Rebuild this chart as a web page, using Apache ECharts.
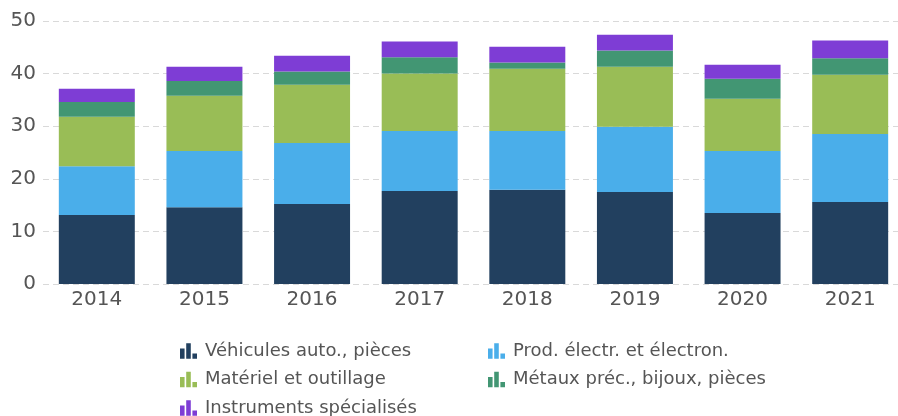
<!DOCTYPE html>
<html>
<head>
<meta charset="utf-8">
<script src="https://cdn.jsdelivr.net/npm/echarts@6/dist/echarts.min.js"></script>
<style>
  html, body { margin: 0; padding: 0; background: #fff; }
  #chart { width: 898px; height: 416px; }
</style>
</head>
<body>
<div id="chart"></div>
<script>
const years = ['2014', '2015', '2016', '2017', '2018', '2019', '2020', '2021']
const vehicules = [13.1, 14.6, 15.2, 17.7, 17.9, 17.5, 13.5, 15.6]
const electr = [9.3, 10.7, 11.6, 11.4, 11.2, 12.4, 11.8, 12.9]
const materiel = [9.4, 10.5, 11.1, 10.9, 11.8, 11.4, 9.9, 11.3]
const metaux = [2.8, 2.8, 2.5, 3.1, 1.2, 3.1, 3.8, 3.1]
const instruments = [2.5, 2.7, 3.0, 3.0, 3.0, 3.0, 2.7, 3.4]
const yTicks = [0, 10, 20, 30, 40, 50]

const names = [
  'Véhicules auto., pièces',
  'Prod. électr. et électron.',
  'Matériel et outillage',
  'Métaux préc., bijoux, pièces',
  'Instruments spécialisés',
]
const colors = ['#22405f', '#4aaeea', '#99bd56', '#429673', '#7e3dd5']
const values = [vehicules, electr, materiel, metaux, instruments]

// little bar-chart glyph used in the legend
const icon = 'path://M0,4h3.5v8h-3.5z M4.75,0h3.5v12h-3.5z M9.5,8h3.5v4h-3.5z'
const font = "'DejaVu Sans', Verdana, sans-serif"

const legendBase = {
  orient: 'vertical',
  top: 336,
  height: 90,
  itemWidth: 17,
  itemHeight: 17,
  itemGap: 8.5,
  icon: icon,
  textStyle: { color: '#555', fontSize: 18, lineHeight: 20, fontFamily: font, padding: [0, 0, 0, 3] },
  selectedMode: false,
}

const chart = echarts.init(document.getElementById('chart'))
chart.setOption({
  animation: false,
  color: colors,
  grid: { left: 43, width: 861, top: 21, height: 263, outerBoundsMode: 'none' },
  legend: [
    Object.assign({}, legendBase, { left: 175, data: [names[0], names[2], names[4]] }),
    Object.assign({}, legendBase, { left: 483, data: [names[1], names[3]] }),
  ],
  xAxis: {
    type: 'category',
    data: years,
    axisLine: { show: false },
    axisTick: { show: false },
    axisLabel: { color: '#555', fontSize: 20, fontFamily: font, margin: 6 },
  },
  yAxis: {
    type: 'value',
    min: yTicks[0],
    max: yTicks[yTicks.length - 1],
    interval: 10,
    axisLine: { show: false },
    axisTick: { show: false },
    axisLabel: { color: '#555', fontSize: 20, fontFamily: font, margin: 7 },
    splitLine: { lineStyle: { color: '#d9d9d9', type: [6, 4], width: 1 } },
  },
  series: names.map((name, i) => ({
    name: name,
    type: 'bar',
    stack: 'total',
    barWidth: '70.6%',
    data: values[i],
    itemStyle: { color: colors[i] },
  })),
})
</script>
</body>
</html>
